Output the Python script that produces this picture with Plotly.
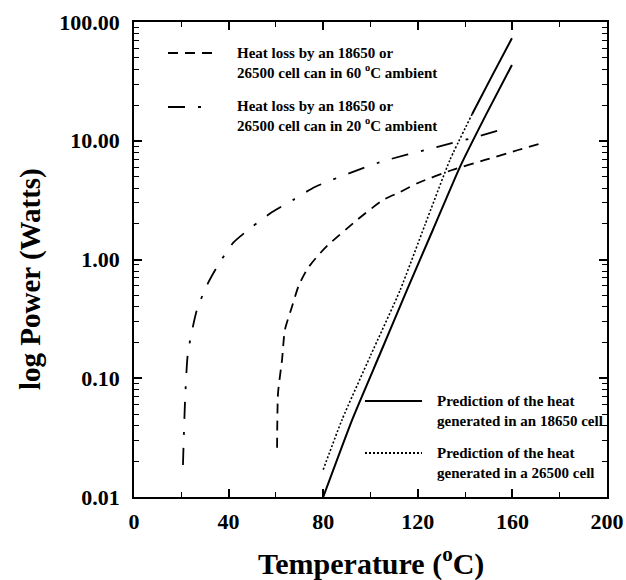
import plotly.graph_objects as go

# ---- data ----
# Heat loss, 60 C ambient (dashed)
T_60 = [60.5, 60.9, 62.6, 63.8, 66.8, 69.6, 73.4, 77.8, 82.0, 94.3, 105.3, 112.5, 120.1, 134.5, 148.4, 162.4, 172.5]
P_60 = [0.026, 0.075, 0.143, 0.255, 0.40, 0.60, 0.84, 1.08, 1.32, 2.15, 3.17, 3.70, 4.41, 5.67, 6.89, 8.36, 9.57]

# Heat loss, 20 C ambient (dash-dot)
T_20 = [20.7, 21.6, 22.8, 26.6, 30.9, 35.1, 41.9, 49.9, 58.4, 67.2, 76.5, 104.0, 128.0, 145.0, 157.7]
P_20 = [0.0186, 0.0656, 0.163, 0.376, 0.61, 0.865, 1.38, 1.88, 2.51, 3.17, 4.08, 6.6, 8.85, 10.8, 12.8]

# Predicted heat generated, 18650 cell (solid)
T_18650 = [80.0, 92.2, 104.0, 115.4, 126.4, 137.8, 148.8, 159.8]
P_18650 = [0.010, 0.0445, 0.16, 0.553, 1.78, 6.0, 16.5, 43.5]

# Predicted heat generated, 26500 cell (dotted, drawn solid at the top)
T_26500 = [80.0, 88.0, 100.0, 112.5, 123.0, 133.6, 143.0, 151.0, 159.8]
P_26500 = [0.017, 0.045, 0.155, 0.55, 1.95, 6.9, 16.8, 34.0, 73.0]
SPLIT_26500 = 6  # index where the plotted line turns solid

x_ticks = [0, 40, 80, 120, 160, 200]
x_minor = [20, 60, 100, 140, 180]
y_ticks = [0.01, 0.1, 1, 10, 100]
y_ticktext = ["0.01", "0.10", "1.00", "10.00", "100.00"]
y_minor = [k * 10 ** e for e in range(-2, 2) for k in range(2, 10)]

# ---- figure ----
W, H = 626, 580
ML, MR, MT, MB = 134, 19, 22, 83
PW, PH = W - ML - MR, H - MT - MB

def px(xp):
    return (xp - ML) / PW

def py(yp):
    return (H - MB - yp) / PH

FONT = "Liberation Serif, Times New Roman, serif"
fig = go.Figure()

fig.add_trace(go.Scatter(x=T_60, y=P_60, mode="lines",
                         line=dict(color="black", width=1.8, dash="10px,7px", shape="spline", smoothing=0.6)))
fig.add_trace(go.Scatter(x=T_20, y=P_20, mode="lines",
                         line=dict(color="black", width=1.8, dash="17px,13px,3px,13px", shape="spline", smoothing=0.6)))
fig.add_trace(go.Scatter(x=T_18650, y=P_18650, mode="lines",
                         line=dict(color="black", width=2, shape="spline", smoothing=0.5)))
fig.add_trace(go.Scatter(x=T_26500[:SPLIT_26500 + 1], y=P_26500[:SPLIT_26500 + 1], mode="lines",
                         line=dict(color="black", width=1.6, dash="2px,2px", shape="spline", smoothing=0.5)))
fig.add_trace(go.Scatter(x=T_26500[SPLIT_26500:], y=P_26500[SPLIT_26500:], mode="lines",
                         line=dict(color="black", width=2, shape="spline", smoothing=0.5)))

axis_common = dict(
    showline=True, mirror="ticks", linecolor="black", linewidth=1.5,
    ticks="inside", ticklen=8, tickwidth=1.5, tickcolor="black",
    showgrid=False, zeroline=False, automargin=False,
    tickfont=dict(family=FONT, size=22, color="black", weight="bold"),
)

fig.update_xaxes(range=[0, 200], tickmode="array", tickvals=x_ticks,
                 minor=dict(tickmode="array", tickvals=x_minor, ticks="inside", ticklen=5, tickwidth=1.2, tickcolor="black"),
                 ticklabelstandoff=4, **axis_common)
fig.update_yaxes(type="log", range=[-2, 2], tickmode="array", tickvals=y_ticks, ticktext=y_ticktext,
                 minor=dict(tickmode="array", tickvals=y_minor, ticks="inside", ticklen=5, tickwidth=1.2, tickcolor="black"),
                 ticklabelstandoff=8, **axis_common)

# legend samples (shapes) and texts (annotations)
shapes = [
    dict(x0=px(168), x1=px(212), y0=py(53), y1=py(53), dash="10px,7px"),
    dict(x0=px(168), x1=px(212), y0=py(107), y1=py(107), dash="17px,13px,3px,13px"),
    dict(x0=px(365), x1=px(422), y0=py(401), y1=py(401), dash="solid"),
    dict(x0=px(365), x1=px(422), y0=py(453), y1=py(453), dash="2px,2px"),
]
for s in shapes:
    fig.add_shape(type="line", xref="paper", yref="paper", x0=s["x0"], x1=s["x1"], y0=s["y0"], y1=s["y1"],
                  line=dict(color="black", width=1.8, dash=s["dash"]))

leg_font = dict(family=FONT, size=15, color="black", weight="bold")
legend_texts = [
    (235, 63, "Heat loss by an 18650 or<br>26500 cell can in 60 <sup>o</sup>C ambient"),
    (235, 116, "Heat loss by an 18650 or<br>26500 cell can in 20 <sup>o</sup>C ambient"),
    (435, 411, "Prediction of the heat<br>generated in an 18650 cell"),
    (435, 463, "Prediction of the heat<br>generated in a 26500 cell"),
]
for xp, yp, t in legend_texts:
    fig.add_annotation(x=px(xp), y=py(yp), xref="paper", yref="paper", text=t, showarrow=False,
                       xanchor="left", yanchor="middle", align="left", font=leg_font)

# axis titles
fig.add_annotation(x=px(371), y=py(561), xref="paper", yref="paper", text="Temperature (<sup>o</sup>C)",
                   showarrow=False, xanchor="center", yanchor="middle",
                   font=dict(family=FONT, size=30, color="black", weight="bold"))
fig.add_annotation(x=px(30), y=py(279), xref="paper", yref="paper", text="log Power (Watts)",
                   showarrow=False, xanchor="center", yanchor="middle", textangle=-90,
                   font=dict(family=FONT, size=29, color="black", weight="bold"))

fig.update_layout(width=W, height=H, margin=dict(l=ML, r=MR, t=MT, b=MB, autoexpand=False),
                  paper_bgcolor="white", plot_bgcolor="white", showlegend=False)

fig.write_html("out.html")
